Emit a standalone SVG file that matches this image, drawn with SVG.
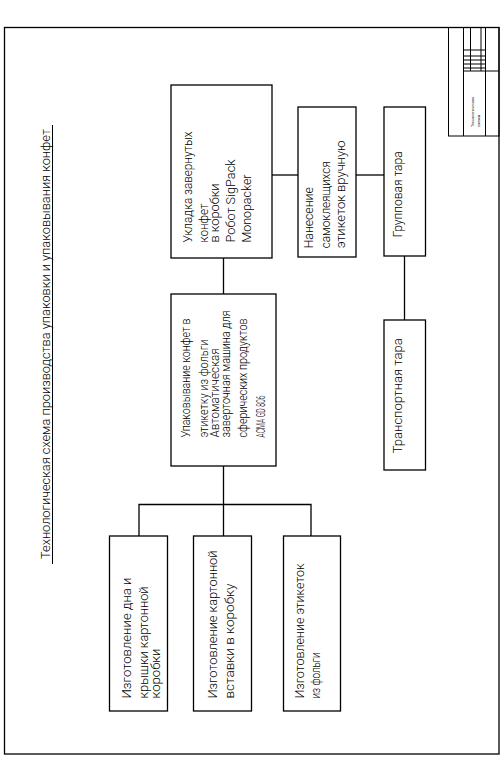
<svg xmlns="http://www.w3.org/2000/svg" width="504" height="781" viewBox="0 0 504 781">
<style>
.b{fill:none;stroke:#000;stroke-width:1.3}
.c{fill:none;stroke:#000;stroke-width:1.3}
.t{fill:none;stroke:#000;stroke-width:1}
text{font-family:Roboto,"Liberation Sans",Arial,sans-serif;font-weight:300;font-size:13px;fill:#000}
.s{font-size:4px;font-weight:400}
</style>
<rect width="504" height="781" fill="#fff"/>
<rect id="frame" class="b" x="4.5" y="27.5" width="494.5" height="726.5"/>

<g id="stamp">
<rect class="t" x="448.5" y="27.5" width="50.5" height="108.5"/>
<line class="t" x1="463.5" y1="27.5" x2="463.5" y2="136"/>
<line class="t" x1="485.5" y1="27.5" x2="485.5" y2="136"/>
<line class="t" x1="470.5" y1="27.5" x2="470.5" y2="71"/>
<line class="t" x1="481" y1="27.5" x2="481" y2="71"/>
<line class="t" x1="463.5" y1="50" x2="485.5" y2="50"/>
<line class="t" x1="463.5" y1="56" x2="485.5" y2="56"/>
<line class="t" x1="463.5" y1="60" x2="485.5" y2="60"/>
<line class="t" x1="463.5" y1="64" x2="485.5" y2="64"/>
<line class="t" x1="463.5" y1="68" x2="485.5" y2="68"/>
<line class="t" x1="463.5" y1="71" x2="499" y2="71"/>
<text class="s" transform="translate(474,127) rotate(-90)" textLength="30" lengthAdjust="spacingAndGlyphs">Технологическая</text>
<text class="s" transform="translate(480,127) rotate(-90)" textLength="12" lengthAdjust="spacingAndGlyphs">схема</text>
</g>

<g id="title">
<text transform="translate(50,559) rotate(-90)" textLength="430" lengthAdjust="spacingAndGlyphs">Технологическая схема производства упаковки и упаковывания конфет</text>
<line class="t" x1="52.5" y1="125" x2="52.5" y2="564"/>
</g>

<g id="connectors">
<line class="c" x1="223.5" y1="258" x2="223.5" y2="294"/>
<line class="c" x1="272" y1="175" x2="298" y2="175"/>
<line class="c" x1="356" y1="175" x2="384" y2="175"/>
<line class="c" x1="404.5" y1="256" x2="404.5" y2="320"/>
<line class="c" x1="223.5" y1="466" x2="223.5" y2="536"/>
<polyline class="c" points="139,536 139,504.5 311,504.5 311,536"/>
</g>

<g id="n_ukladka">
<rect class="b" x="171" y="85" width="101" height="173"/>
<text transform="translate(192,242.5) rotate(-90)" textLength="111" lengthAdjust="spacingAndGlyphs">Укладка завернутых</text>
<text transform="translate(208,242.5) rotate(-90)" textLength="39" lengthAdjust="spacingAndGlyphs">конфет</text>
<text transform="translate(218.5,242.5) rotate(-90)" textLength="59" lengthAdjust="spacingAndGlyphs">в коробки</text>
<text transform="translate(234.5,242.5) rotate(-90)" textLength="83" lengthAdjust="spacingAndGlyphs">Робот SigPack</text>
<text transform="translate(251,242.5) rotate(-90)" textLength="68" lengthAdjust="spacingAndGlyphs">Monopacker</text>
</g>

<g id="n_upakovyvanie">
<rect class="b" x="171" y="294" width="105" height="172"/>
<text transform="translate(190,437.5) rotate(-90)" textLength="119" lengthAdjust="spacingAndGlyphs">Упаковывание конфет в</text>
<text transform="translate(208,437.5) rotate(-90)" textLength="98" lengthAdjust="spacingAndGlyphs">этикетку из фольги</text>
<text transform="translate(219,437.5) rotate(-90)" textLength="89" lengthAdjust="spacingAndGlyphs">Автоматическая</text>
<text transform="translate(230,437.5) rotate(-90)" textLength="127" lengthAdjust="spacingAndGlyphs">заверточная машина для</text>
<text transform="translate(247,437.5) rotate(-90)" textLength="119" lengthAdjust="spacingAndGlyphs">сферических продуктов</text>
<text transform="translate(265,437.5) rotate(-90)" textLength="42" lengthAdjust="spacingAndGlyphs">ACMA GD 806</text>
</g>

<g id="n_nanesenie">
<rect class="b" x="298" y="107" width="58" height="150"/>
<text transform="translate(313,248.3) rotate(-90)" textLength="61" lengthAdjust="spacingAndGlyphs">Нанесение</text>
<text transform="translate(330,248.3) rotate(-90)" textLength="87" lengthAdjust="spacingAndGlyphs">самоклеящихся</text>
<text transform="translate(345,248.3) rotate(-90)" textLength="108" lengthAdjust="spacingAndGlyphs">этикеток вручную</text>
</g>

<g id="n_gruppovaya">
<rect class="b" x="384" y="107" width="41.5" height="149"/>
<text transform="translate(402,237.3) rotate(-90)" textLength="86" lengthAdjust="spacingAndGlyphs">Групповая тара</text>
</g>

<g id="n_transportnaya">
<rect class="b" x="384" y="320" width="41.5" height="150"/>
<text transform="translate(402,453.3) rotate(-90)" textLength="115" lengthAdjust="spacingAndGlyphs">Транспортная тара</text>
</g>

<g id="n_dno">
<rect class="b" x="109.5" y="536" width="58" height="175"/>
<text transform="translate(131,698.5) rotate(-90)" textLength="121" lengthAdjust="spacingAndGlyphs">Изготовление дна и</text>
<text transform="translate(147.5,698.5) rotate(-90)" textLength="112" lengthAdjust="spacingAndGlyphs">крышки картонной</text>
<text transform="translate(159.5,698.5) rotate(-90)" textLength="50" lengthAdjust="spacingAndGlyphs">коробки</text>
</g>

<g id="n_vstavka">
<rect class="b" x="193.5" y="536" width="58" height="175"/>
<text transform="translate(216.5,698.5) rotate(-90)" textLength="148" lengthAdjust="spacingAndGlyphs">Изготовление картонной</text>
<text transform="translate(233.5,698.5) rotate(-90)" textLength="115" lengthAdjust="spacingAndGlyphs">вставки в коробку</text>
</g>

<g id="n_etiketki">
<rect class="b" x="283.5" y="536" width="57" height="175"/>
<text transform="translate(303.5,698.5) rotate(-90)" textLength="135" lengthAdjust="spacingAndGlyphs">Изготовление этикеток</text>
<text transform="translate(320,698.5) rotate(-90)" textLength="46" lengthAdjust="spacingAndGlyphs">из фольги</text>
</g>
</svg>
